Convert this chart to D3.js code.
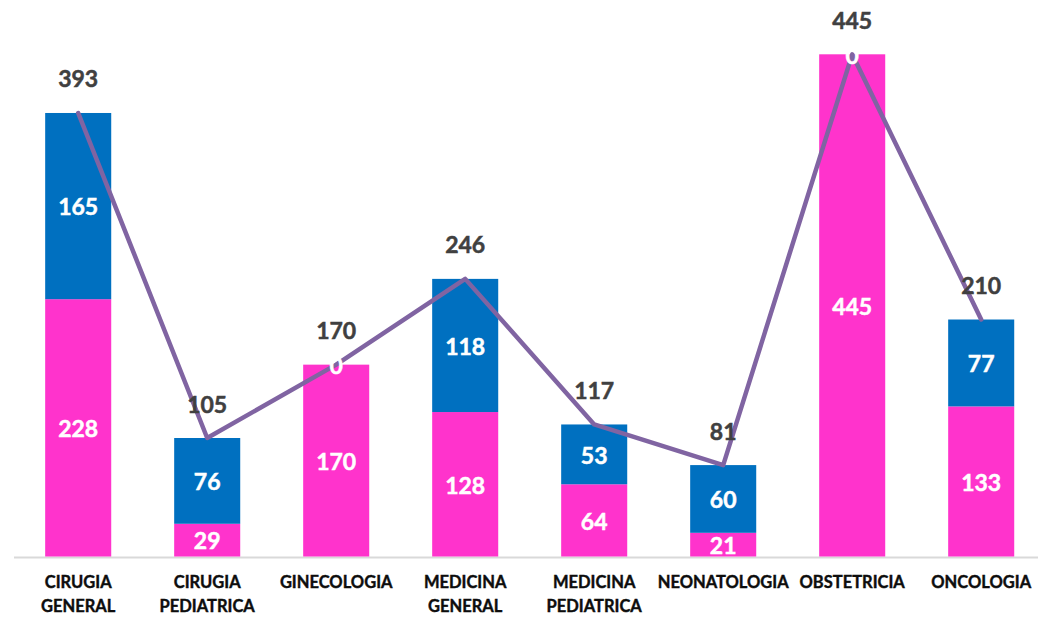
<!DOCTYPE html>
<html>
<head>
<meta charset="utf-8">
<script src="https://cdn.jsdelivr.net/npm/d3@7"></script>
<style>
  html, body { margin: 0; padding: 0; background: #fff; }
  svg { display: block; }
</style>
</head>
<body>
<svg id="chart" width="1038" height="620"></svg>
<script>
const categories = ["CIRUGIA GENERAL", "CIRUGIA PEDIATRICA", "GINECOLOGIA", "MEDICINA GENERAL", "MEDICINA PEDIATRICA", "NEONATOLOGIA", "OBSTETRICIA", "ONCOLOGIA"];
const pinkValues = [228, 29, 170, 128, 64, 21, 445, 133];
const blueValues = [165, 76, 0, 118, 53, 60, 0, 77];
const totalValues = [393, 105, 170, 246, 117, 81, 445, 210];

const PINK = "#FF33CC", BLUE = "#0070C0", LINE = "#8064A2";
const FONT = "Lato, 'Open Sans', sans-serif";

const svg = d3.select("#chart");
const padInner = 0.488;
const x = d3.scaleBand().domain(categories).range([13.7, 1045.7])
  .paddingInner(padInner).paddingOuter(padInner / 2);
const y = d3.scaleLinear().domain([0, 445]).range([556.5, 54.3]);

const data = categories.map((c, i) => ({ c, pink: pinkValues[i], blue: blueValues[i], total: totalValues[i] }));
const stack = d3.stack().keys(["pink", "blue"])(data);
const colors = { pink: PINK, blue: BLUE };

// axis baseline
const xAxis = d3.axisBottom(x).tickSize(0).tickFormat("");
const ax = svg.append("g").attr("transform", `translate(0,${y(0) + 1})`).call(xAxis);
ax.select(".domain").attr("stroke", "#D9D9D9").attr("stroke-width", 2).attr("d", "M14,0H1038");

// bars
stack.forEach(layer => {
  svg.append("g").selectAll("rect").data(layer).join("rect")
    .attr("x", d => x(d.data.c))
    .attr("width", x.bandwidth())
    .attr("y", d => y(d[1]))
    .attr("height", d => y(d[0]) - y(d[1]))
    .attr("fill", colors[layer.key]);
});

// line through totals
const line = d3.line().x(d => x(d.c) + x.bandwidth() / 2).y(d => y(d.total));
svg.append("path").datum(data).attr("d", line)
  .attr("fill", "none").attr("stroke", LINE).attr("stroke-width", 4.5)
  .attr("stroke-linecap", "round").attr("stroke-linejoin", "round");

// segment labels
const valFs = 23;
stack.forEach(layer => {
  svg.append("g").selectAll("text").data(layer).join("text")
    .attr("x", d => x(d.data.c) + x.bandwidth() / 2)
    .attr("y", d => (y(d[0]) + y(d[1])) / 2 + valFs * 0.36 + 1)
    .attr("text-anchor", "middle")
    .attr("font-family", FONT).attr("font-weight", "bold").attr("font-size", valFs)
    .attr("fill", "#FFFFFF").attr("stroke", "#FFFFFF").attr("stroke-width", 0.5)
    .text(d => d[1] - d[0]);
});

// total labels
svg.append("g").selectAll("text").data(data).join("text")
  .attr("x", d => x(d.c) + x.bandwidth() / 2)
  .attr("y", d => y(d.total) - 25.5)
  .attr("text-anchor", "middle")
  .attr("font-family", FONT).attr("font-weight", "bold").attr("font-size", valFs)
  .attr("fill", "#404040").attr("stroke", "#404040").attr("stroke-width", 0.5)
  .text(d => d.total);

// category labels
const catFs = 16.5;
const cg = svg.append("g");
categories.forEach(c => {
  const lines = c.split(" ");
  const t = cg.append("text")
    .attr("text-anchor", "middle")
    .attr("font-family", FONT).attr("font-weight", "bold").attr("font-size", catFs)
    .attr("fill", "#0D0D0D").attr("stroke", "#0D0D0D").attr("stroke-width", 0.4);
  lines.forEach((ln, j) => {
    t.append("tspan").attr("x", x(c) + x.bandwidth() / 2).attr("y", 588.3 + j * 23.4).text(ln);
  });
});
</script>
</body>
</html>
